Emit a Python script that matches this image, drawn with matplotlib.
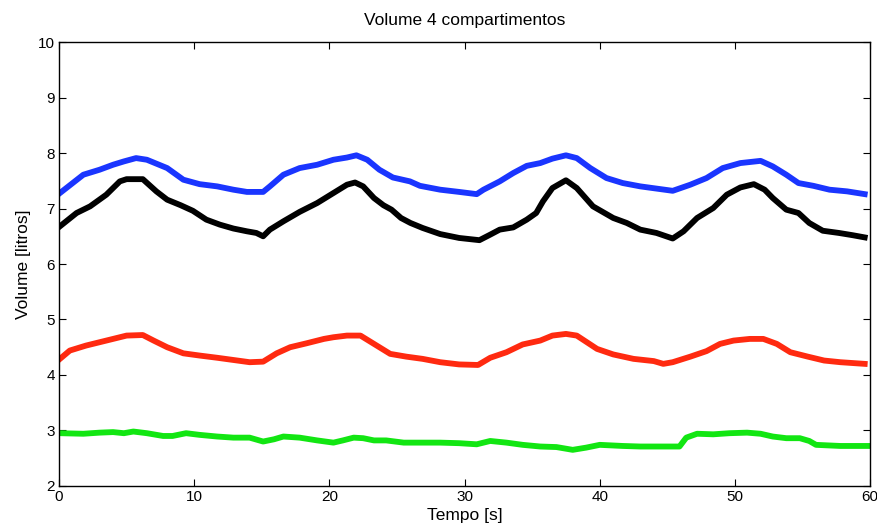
import numpy as np
import matplotlib
matplotlib.use("Agg")
import matplotlib.pyplot as plt

plt.rcParams['font.family'] = ['Liberation Sans', 'DejaVu Sans']

# Time [s] and volume [litros] for each compartment
t_blue = [0.07, 1.8, 3.0, 4.0, 4.8, 5.7, 6.5, 8.0, 9.2, 10.4, 11.7, 12.9, 13.9, 15.1,
          15.6, 16.6, 17.8, 19.1, 20.3, 21.3, 22.0, 22.8, 23.7, 24.7, 25.96, 26.7, 28.2,
          29.6, 30.9, 31.4, 32.6, 33.6, 34.6, 35.6, 36.5, 37.5, 38.3, 39.3, 40.5, 41.7,
          43.0, 44.2, 45.4, 46.7, 47.9, 49.1, 50.4, 51.9, 52.8, 53.8, 54.7, 55.8, 57.0,
          58.3, 59.6]
v_blue = [7.28, 7.61, 7.70, 7.79, 7.85, 7.91, 7.88, 7.73, 7.52, 7.44, 7.40, 7.34, 7.30, 7.30,
          7.40, 7.61, 7.73, 7.79, 7.88, 7.92, 7.96, 7.88, 7.70, 7.56, 7.49, 7.41, 7.34,
          7.30, 7.26, 7.34, 7.49, 7.64, 7.77, 7.82, 7.90, 7.96, 7.91, 7.73, 7.55, 7.46,
          7.40, 7.36, 7.32, 7.43, 7.55, 7.73, 7.82, 7.86, 7.76, 7.61, 7.46, 7.41, 7.34,
          7.31, 7.26]

t_black = [0.07, 1.3, 2.3, 3.5, 4.5, 5.0, 6.2, 7.2, 8.0, 9.0, 9.9, 10.9, 11.9, 12.9, 13.9,
           14.6, 15.1, 15.6, 16.6, 17.8, 19.1, 20.3, 21.3, 21.9, 22.5, 23.3, 24.0, 24.6,
           25.3, 26.0, 26.9, 28.2, 29.6, 31.1, 31.9, 32.6, 33.6, 34.6, 35.3, 35.8, 36.5,
           37.5, 38.3, 39.5, 41.0, 42.0, 43.0, 44.2, 45.4, 46.2, 47.2, 48.4, 49.4, 50.4,
           51.4, 52.2, 52.8, 53.8, 54.7, 55.5, 56.5, 57.7, 58.7, 59.6]
v_black = [6.68, 6.92, 7.04, 7.25, 7.49, 7.53, 7.53, 7.31, 7.16, 7.06, 6.96, 6.80, 6.71, 6.64, 6.59,
           6.56, 6.50, 6.62, 6.77, 6.94, 7.10, 7.28, 7.43, 7.47, 7.40, 7.19, 7.06, 6.98,
           6.83, 6.74, 6.65, 6.54, 6.47, 6.43, 6.53, 6.62, 6.66, 6.80, 6.92, 7.13, 7.37,
           7.51, 7.37, 7.04, 6.83, 6.74, 6.62, 6.56, 6.46, 6.59, 6.83, 7.01, 7.25, 7.38,
           7.44, 7.34, 7.19, 6.98, 6.92, 6.74, 6.60, 6.56, 6.52, 6.48]

t_red = [0.07, 0.8, 2.0, 3.0, 4.0, 5.0, 6.2, 7.0, 8.0, 9.2, 10.4, 11.7, 12.9, 14.1, 15.1,
         16.1, 17.1, 18.3, 19.6, 20.3, 21.3, 22.3, 23.3, 24.5, 25.7, 26.9, 28.2, 29.6,
         31.0, 31.9, 33.1, 34.3, 35.6, 36.5, 37.5, 38.3, 39.8, 41.0, 42.5, 44.0, 44.7,
         45.4, 46.7, 47.9, 48.9, 49.9, 51.1, 52.1, 53.1, 54.1, 55.4, 56.6, 57.8, 59.6]
v_red = [4.29, 4.44, 4.53, 4.59, 4.65, 4.71, 4.72, 4.62, 4.50, 4.39, 4.35, 4.31, 4.27, 4.23, 4.24,
         4.39, 4.50, 4.57, 4.65, 4.68, 4.71, 4.71, 4.56, 4.38, 4.33, 4.29, 4.23, 4.19,
         4.18, 4.31, 4.41, 4.55, 4.62, 4.71, 4.74, 4.71, 4.47, 4.37, 4.29, 4.25, 4.20,
         4.23, 4.33, 4.43, 4.56, 4.62, 4.65, 4.65, 4.56, 4.41, 4.33, 4.26, 4.23, 4.20]

t_green = [0.07, 1.8, 3.0, 4.0, 4.8, 5.5, 6.5, 7.7, 8.4, 9.4, 10.4, 11.7, 12.9, 14.1, 15.1,
           15.9, 16.6, 17.8, 19.1, 20.3, 21.0, 21.8, 22.5, 23.3, 24.2, 25.5, 26.7, 28.2,
           29.6, 30.9, 31.9, 33.1, 34.3, 35.6, 36.8, 38.0, 39.0, 40.0, 41.7, 43.0, 44.2,
           45.9, 46.4, 47.2, 48.4, 49.6, 50.9, 51.9, 52.8, 53.8, 54.8, 55.5, 56.0, 57.8, 59.8]
v_green = [2.95, 2.94, 2.96, 2.97, 2.95, 2.98, 2.95, 2.90, 2.90, 2.95, 2.92, 2.89, 2.87, 2.87, 2.80,
           2.84, 2.89, 2.87, 2.82, 2.78, 2.82, 2.87, 2.86, 2.82, 2.82, 2.78, 2.78, 2.78,
           2.77, 2.75, 2.81, 2.78, 2.74, 2.71, 2.70, 2.65, 2.69, 2.74, 2.72, 2.71, 2.71,
           2.71, 2.87, 2.94, 2.93, 2.95, 2.96, 2.94, 2.89, 2.86, 2.86, 2.81, 2.74, 2.72, 2.72]

fig = plt.figure(figsize=(8.78, 5.27), dpi=100)
ax = fig.add_axes([0.0672, 0.078, 0.9238, 0.842])

ax.plot(t_blue, v_blue, color='#1a35ff', lw=4.2, solid_joinstyle='round')
ax.plot(t_black, v_black, color='black', lw=4.2, solid_joinstyle='round')
ax.plot(t_red, v_red, color='#ff2a10', lw=4.2, solid_joinstyle='round')
ax.plot(t_green, v_green, color='#12e612', lw=4.2, solid_joinstyle='round')

ax.set_xlim(0, 60)
ax.set_ylim(2, 10)
ax.set_xticks(np.arange(0, 61, 10))
ax.set_yticks(np.arange(2, 11, 1))
ax.tick_params(direction='in', top=True, right=True, length=5, labelsize=11, pad=3)
for s in ax.spines.values():
    s.set_linewidth(1.0)

ax.set_title('Volume 4 compartimentos', fontsize=12.5, pad=12)
ax.set_xlabel('Tempo [s]', fontsize=12.5, labelpad=3)
ax.set_ylabel('Volume [litros]', fontsize=12.5, labelpad=5)

fig.savefig('out.png', dpi=100)
